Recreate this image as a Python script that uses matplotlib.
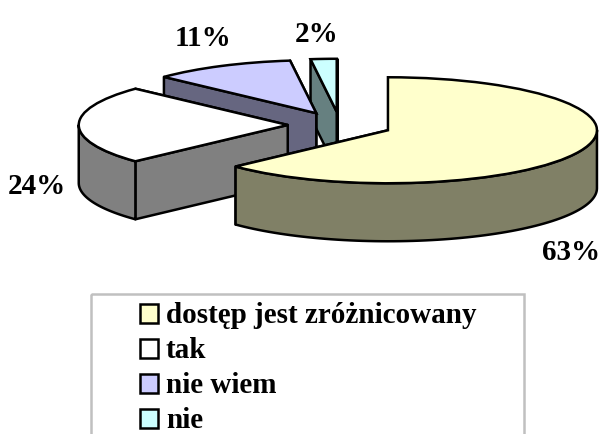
import numpy as np
import matplotlib.pyplot as plt
from matplotlib.patches import Rectangle

labels = ['dostęp jest zróżnicowany', 'tak', 'nie wiem', 'nie']
values = [63, 24, 11, 2]
pct_labels = ['63%', '24%', '11%', '2%']
colors = ['#FFFFCC', '#FFFFFF', '#CCCCFF', '#CCFFFF']
side_colors = ['#808066', '#808080', '#666680', '#668080']

# pie layout in pixels
CX, CY = 340, 126
RX, RY = 209, 53
DEPTH = 58 / RY
EXPLODE = 0.25
LW = 1.8
label_pos = [(571, 252), (37, 187), (203, 39), (317, 34)]
legend_y = [315, 350, 385, 420]


def side_faces(ax, a0, a1, expl, color, z):
    # a0, a1 are degrees in pie coordinates (counter-clockwise from x axis)
    mid = np.radians((a0 + a1) / 2)
    x0 = expl * np.cos(mid)
    y0 = expl * np.sin(mid)
    # the two cut faces, the visible one (a1) goes last
    for a in (a0, a1):
        ex = x0 + np.cos(np.radians(a))
        ey = y0 + np.sin(np.radians(a))
        ax.fill([x0, ex, ex, x0], [y0, ey, ey - DEPTH, y0 - DEPTH],
                facecolor=color, edgecolor='black', lw=LW, zorder=z, joinstyle='round')
    # outer rim, only the part facing the viewer
    lo, hi = max(a0, 180), min(a1, 360)
    if lo < hi:
        t = np.radians(np.linspace(lo, hi, 80))
        xs = x0 + np.cos(t)
        ys = y0 + np.sin(t)
        ax.fill(np.r_[xs, xs[::-1]], np.r_[ys, ys[::-1] - DEPTH],
                facecolor=color, edgecolor='black', lw=LW, zorder=z + 0.1, joinstyle='round')


fig = plt.figure(figsize=(6, 4.35), dpi=100)
ax = fig.add_axes([0, 0, 1, 1])
wedges, _ = ax.pie(values, startangle=90, counterclock=False, radius=1,
                   explode=[EXPLODE] * len(values), colors=colors,
                   wedgeprops=dict(edgecolor='black', lw=LW))
ax.set_aspect('auto')
ax.set_xlim(-CX / RX, (600 - CX) / RX)
ax.set_ylim((CY - 435) / RY, CY / RY)

# back slices first so the front ones cover them
for i in range(len(values) - 1, -1, -1):
    z = 10 + (len(values) - i) * 2
    w = wedges[i]
    a0, a1 = w.theta1, w.theta2
    while a0 < 0:
        a0 += 360
        a1 += 360
    side_faces(ax, a0, a1, EXPLODE, side_colors[i], z)
    w.set_zorder(z + 0.5)

# overlay in pixel coordinates for the texts and the legend
ov = fig.add_axes([0, 0, 1, 1])
ov.set_xlim(0, 600)
ov.set_ylim(435, 0)
ov.axis('off')

font = dict(family=['Liberation Serif'], weight='bold', color='black')
for txt, (x, y) in zip(pct_labels, label_pos):
    ov.text(x, y, txt, fontsize=21, ha='center', va='center', **font)

ov.add_patch(Rectangle((90.5, 295), 433, 160, facecolor='none', edgecolor='#C0C0C0', lw=1.8))
for lab, col, y in zip(labels, colors, legend_y):
    ov.add_patch(Rectangle((139.5, y - 10), 18.5, 18.5, facecolor=col, edgecolor='black', lw=LW))
    ov.text(166, y + 1, lab, fontsize=21, ha='left', va='center', **font)

fig.savefig('out.png', dpi=100)
